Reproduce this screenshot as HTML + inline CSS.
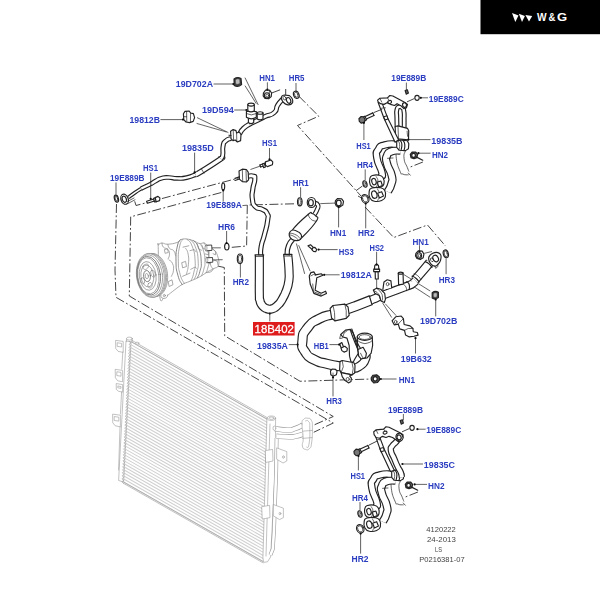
<!DOCTYPE html>
<html><head><meta charset="utf-8"><title>Diagram</title>
<style>
html,body{margin:0;padding:0;background:#fff;}
body{width:600px;height:600px;overflow:hidden;font-family:"Liberation Sans",sans-serif;}
svg{display:block}
.l{font-family:"Liberation Sans",sans-serif;font-weight:bold;font-size:8.3px;fill:#2a3cc0;}
.f{font-family:"Liberation Sans",sans-serif;font-size:6.6px;fill:#444;}
.k{fill:none;stroke:#222;stroke-width:1.15;stroke-linecap:round;stroke-linejoin:round}
.w{fill:#fff;stroke:#222;stroke-width:1.15;stroke-linecap:round;stroke-linejoin:round}
.t{fill:none;stroke:#222;stroke-width:0.7;stroke-linecap:round;stroke-linejoin:round}
.d{fill:none;stroke:#333;stroke-width:0.92;stroke-dasharray:9 2.4 1.8 2.4}
.g{fill:none;stroke:#999;stroke-width:0.6;stroke-linecap:round;stroke-linejoin:round}
.gw{fill:#fff;stroke:#999;stroke-width:0.6;stroke-linecap:round;stroke-linejoin:round}
.ld{fill:none;stroke:#222;stroke-width:0.7}
</style></head><body>
<svg width="600" height="600" viewBox="0 0 600 600">
<defs><filter id="sb" x="0" y="0" width="600" height="600" filterUnits="userSpaceOnUse"><feGaussianBlur stdDeviation="0.42"/></filter></defs>
<rect width="600" height="600" fill="#fff"/>
<g filter="url(#sb)">
<path class="gw" d="M131 341.6 L267.6 419.46 L263 561.46 L123.6 482 Z" style="stroke:none"/>
<path d="M131 341.6 L267.6 419.46 M130.84 344.59 L267.5 422.48 M130.69 347.57 L267.4 425.5 M130.53 350.56 L267.31 428.53 M130.37 353.55 L267.21 431.55 M130.21 356.54 L267.11 434.57 M130.06 359.52 L267.01 437.59 M129.9 362.51 L266.91 440.61 M129.74 365.5 L266.82 443.63 M129.58 368.49 L266.72 446.65 M129.43 371.47 L266.62 449.67 M129.27 374.46 L266.52 452.7 M129.11 377.45 L266.43 455.72 M128.95 380.43 L266.33 458.74 M128.8 383.42 L266.23 461.76 M128.64 386.41 L266.13 464.78 M128.48 389.4 L266.03 467.8 M128.32 392.38 L265.94 470.82 M128.17 395.37 L265.84 473.84 M128.01 398.36 L265.74 476.86 M127.85 401.34 L265.64 479.89 M127.69 404.33 L265.54 482.91 M127.54 407.32 L265.45 485.93 M127.38 410.31 L265.35 488.95 M127.22 413.29 L265.25 491.97 M127.06 416.28 L265.15 494.99 M126.91 419.27 L265.06 498.01 M126.75 422.26 L264.96 501.03 M126.59 425.24 L264.86 504.06 M126.43 428.23 L264.76 507.08 M126.28 431.22 L264.66 510.1 M126.12 434.2 L264.57 513.12 M125.96 437.19 L264.47 516.14 M125.8 440.18 L264.37 519.16 M125.65 443.17 L264.27 522.18 M125.49 446.15 L264.17 525.2 M125.33 449.14 L264.08 528.22 M125.17 452.13 L263.98 531.25 M125.02 455.11 L263.88 534.27 M124.86 458.1 L263.78 537.29 M124.7 461.09 L263.69 540.31 M124.54 464.08 L263.59 543.33 M124.39 467.06 L263.49 546.35 M124.23 470.05 L263.39 549.37 M124.07 473.04 L263.29 552.39 M123.91 476.03 L263.2 555.42 M123.76 479.01 L263.1 558.44 M123.6 482 L263 561.46" fill="none" stroke="#d0d0d0" stroke-width="1.05"/>
<path class="g" d="M131 341.6 L267.6 419.46"/>
<path class="g" d="M131.3 340 L267.6 417.86"/>
<path class="g" d="M123.6 482 L263 561.46"/>
<path class="g" d="M123.6 483.4 L263 562.86"/>
<path class="gw" d="M126.4 341 L131 341.8 L123.6 482 L119 480.6 Z"/>
<ellipse class="gw" cx="129.4" cy="338.6" rx="2.9" ry="1.5"/>
<path class="g" d="M126.5 338.8 L126.4 341.4"/>
<path class="g" d="M132.3 338.8 L132.2 342"/>
<ellipse class="gw" cx="137.2" cy="343.2" rx="1.8" ry="1"/>
<path class="g" d="M129.2 341.3 L130.9 343.1 L129.04 344.29 L130.74 346.09 L128.89 347.27 L130.59 349.07 L128.73 350.26 L130.43 352.06 L128.57 353.25 L130.27 355.05 L128.41 356.24 L130.11 358.04 L128.26 359.22 L129.96 361.02 L128.1 362.21 L129.8 364.01 L127.94 365.2 L129.64 367 L127.78 368.19 L129.48 369.99 L127.63 371.17 L129.33 372.97 L127.47 374.16 L129.17 375.96 L127.31 377.15 L129.01 378.95 L127.15 380.13 L128.85 381.93 L127 383.12 L128.7 384.92 L126.84 386.11 L128.54 387.91 L126.68 389.1 L128.38 390.9 L126.52 392.08 L128.22 393.88 L126.37 395.07 L128.07 396.87 L126.21 398.06 L127.91 399.86 L126.05 401.04 L127.75 402.84 L125.89 404.03 L127.59 405.83 L125.74 407.02 L127.44 408.82 L125.58 410.01 L127.28 411.81 L125.42 412.99 L127.12 414.79 L125.26 415.98 L126.96 417.78 L125.11 418.97 L126.81 420.77 L124.95 421.96 L126.65 423.76 L124.79 424.94 L126.49 426.74 L124.63 427.93 L126.33 429.73 L124.48 430.92 L126.18 432.72 L124.32 433.9 L126.02 435.7 L124.16 436.89 L125.86 438.69 L124 439.88 L125.7 441.68 L123.85 442.87 L125.55 444.67 L123.69 445.85 L125.39 447.65 L123.53 448.84 L125.23 450.64 L123.37 451.83 L125.07 453.63 L123.22 454.81 L124.92 456.61 L123.06 457.8 L124.76 459.6 L122.9 460.79 L124.6 462.59 L122.74 463.78 L124.44 465.58 L122.59 466.76 L124.29 468.56 L122.43 469.75 L124.13 471.55 L122.27 472.74 L123.97 474.54 L122.11 475.73 L123.81 477.53 L121.96 478.71 L123.66 480.51 L121.8 481.7 L123.5 483.5"/>
<path class="gw" d="M116 340.4 L123.2 341.4 L123.2 352.4 L118.16 351.4 L116 348.8 Z"/>
<path class="g" d="M117.6 342.8 L121.6 343.4 L121.6 347 L117.6 346.4 Z"/>
<path class="gw" d="M115.6 369.4 L122.6 370.4 L122.6 381.8 L117.7 380.8 L115.6 378.08 Z"/>
<path class="g" d="M117.2 371.8 L121 372.4 L121 376.22 L117.2 375.6 Z"/>
<path class="gw" d="M116.6 383.6 L122.6 384.6 L122.6 392.2 L118.4 391.2 L116.6 389.62 Z"/>
<path class="g" d="M118.2 386 L121 386.6 L121 388.33 L118.2 387.9 Z"/>
<path class="gw" d="M113 414.2 L120.4 415.2 L120.4 426.8 L115.22 425.8 L113 423.02 Z"/>
<path class="g" d="M114.6 416.6 L118.8 417.2 L118.8 421.13 L114.6 420.5 Z"/>
<path class="g" d="M122.8 352 L121.8 369"/>
<path class="g" d="M121.6 392 L120.4 414"/>
<path class="g" d="M120 427 L118.6 470"/>
<path class="gw" d="M267.3 418.4 L275.6 418.4 L275.2 470 L270.6 557 L267.5 561.8 L263.6 562.4 L263 558 Z"/>
<ellipse class="gw" cx="271.45" cy="418.2" rx="4.15" ry="2.2"/>
<ellipse class="g" cx="271.45" cy="418.2" rx="2.6" ry="1.2"/>
<path class="g" d="M270 424 L266 556"/>
<path d="M276.6 438 L276.2 470 L274 530 L272.8 549 L270.4 555" fill="none" stroke="#999" stroke-width="3.8" stroke-linecap="butt" stroke-linejoin="round"/>
<path d="M276.6 438 L276.2 470 L274 530 L272.8 549 L270.4 555" fill="none" stroke="#fff" stroke-width="2.6" stroke-linecap="butt" stroke-linejoin="round"/>
<path d="M274.6 428.6 C278.9 429.07 280.7 430 287.5 430 C294.3 430 290 430.2 295 428.6 C300 427 300 426.33 302.5 425.2" fill="none" stroke="#999" stroke-width="5.2" stroke-linecap="butt" stroke-linejoin="round"/>
<path d="M274.6 428.6 C278.9 429.07 280.7 430 287.5 430 C294.3 430 290 430.2 295 428.6 C300 427 300 426.33 302.5 425.2" fill="none" stroke="#fff" stroke-width="4" stroke-linecap="butt" stroke-linejoin="round"/>
<path d="M276.4 436.2 C280.6 436.43 282.47 436.9 289 436.9 C295.53 436.9 291.5 437.03 296 436.2 C300.5 435.37 300.33 435 302.5 434.4" fill="none" stroke="#999" stroke-width="5.2" stroke-linecap="butt" stroke-linejoin="round"/>
<path d="M276.4 436.2 C280.6 436.43 282.47 436.9 289 436.9 C295.53 436.9 291.5 437.03 296 436.2 C300.5 435.37 300.33 435 302.5 434.4" fill="none" stroke="#fff" stroke-width="4" stroke-linecap="butt" stroke-linejoin="round"/>
<ellipse class="gw" cx="274.4" cy="428.2" rx="1.4" ry="2.2"/>
<path class="gw" d="M302 424 C302.11 419.04 302.11 420.95 303.6 419.4 C305.09 417.85 305.52 417.93 307.6 418.2 C309.68 418.47 310.12 417.79 311.4 420.4 C312.68 423.01 312.35 421.97 312.4 428 C312.45 434.03 312.4 437.51 311.6 443 C310.8 448.49 311.05 446.89 309.4 448.6 C307.75 450.31 307.27 450.09 305.4 449.4 C303.53 448.71 302.99 449.04 302.4 446 C301.81 442.96 303.31 443.87 303.2 438 C303.09 432.13 301.89 428.96 302 424 Z"/>
<path class="g" d="M305.6 421 C306.6 421.2 307.2 419.27 308.6 421.6 C310 423.93 309.67 420.53 309.8 428 C309.93 435.47 310.07 437.67 309 444 C307.93 450.33 307.4 446 306.6 447"/>
<path class="g" d="M302.4 431.2 L312.2 430.4"/>
<path class="g" d="M302.6 438.4 L312 437.6"/>
<path class="gw" d="M277 448 L286.8 451.6 L286.8 461 L283 463 L277 459.4 Z"/>
<ellipse class="g" cx="283.4" cy="457" rx="0.9" ry="1.3"/>
<path class="gw" d="M273.6 504.6 L283.4 508.2 L283.4 517.6 L279.6 519.6 L273.6 516 Z"/>
<ellipse class="g" cx="280" cy="513.6" rx="0.9" ry="1.3"/>
<path class="gw" d="M265.6 450.6 L272.6 449.4 L273 461 L266 462.4 Z"/>
<path class="gw" d="M262 506.6 L269.6 505.4 L270 517.6 L262.6 519 Z"/>
<path class="d" d="M271.7 93 L282.3 89"/>
<path class="d" d="M285.7 89 L285.7 102"/>
<path class="d" d="M299 96.3 L318.75 116.2 L297.5 125.5 L361 196"/>
<path class="d" d="M365 207 L393.75 237.5 L427.5 225 L445.5 246"/>
<path class="d" d="M116.5 204 L115 270 L116 297.3 L333.25 423 L313.75 432.25"/>
<path class="d" d="M134.7 201.3 L136 205.5 L238.7 178"/>
<path class="d" d="M221.3 192.5 L130.7 216.8 L129.3 296 L333.25 416.5 L314.5 424.75"/>
<path class="d" d="M217.5 266 L224.3 267.5 L224.7 335.8 L300 381.25 L372 379"/>
<path class="d" d="M294 203.8 L247.3 205 L246.6 246 L230 247.5"/>
<path class="d" d="M356 190.7 L362.4 186"/>
<path class="d" d="M358 196 L362.6 198.6"/>
<path d="M128.3 197.6 C130.53 195.93 130.53 195.7 135 192.6 C139.47 189.5 139.47 189.73 141.7 188.3" fill="none" stroke="#222" stroke-width="3.75" stroke-linecap="butt" stroke-linejoin="round"/>
<path d="M128.3 197.6 C130.53 195.93 130.53 195.7 135 192.6 C139.47 189.5 139.47 189.73 141.7 188.3" fill="none" stroke="#fff" stroke-width="1.45" stroke-linecap="butt" stroke-linejoin="round"/>
<path d="M141.2 188.6 C142.8 187.8 142.5 187.9 146 186.2 C149.5 184.5 149.8 184.4 151.7 183.5" fill="none" stroke="#222" stroke-width="4.55" stroke-linecap="butt" stroke-linejoin="round"/>
<path d="M141.2 188.6 C142.8 187.8 142.5 187.9 146 186.2 C149.5 184.5 149.8 184.4 151.7 183.5" fill="none" stroke="#fff" stroke-width="2.25" stroke-linecap="butt" stroke-linejoin="round"/>
<path d="M151.2 183.8 C152.9 182.73 152.8 182.47 156.3 180.6 C159.8 178.73 157.47 179.23 161.7 178.2 C165.93 177.17 163.9 177.43 169 177.5 C174.1 177.57 171.1 178.37 177 178.4 C182.9 178.43 180.37 178.97 186.7 177.6 C193.03 176.23 192.9 175.4 196 174.3" fill="none" stroke="#222" stroke-width="4.75" stroke-linecap="butt" stroke-linejoin="round"/>
<path d="M151.2 183.8 C152.9 182.73 152.8 182.47 156.3 180.6 C159.8 178.73 157.47 179.23 161.7 178.2 C165.93 177.17 163.9 177.43 169 177.5 C174.1 177.57 171.1 178.37 177 178.4 C182.9 178.43 180.37 178.97 186.7 177.6 C193.03 176.23 192.9 175.4 196 174.3" fill="none" stroke="#fff" stroke-width="2.45" stroke-linecap="butt" stroke-linejoin="round"/>
<path d="M195.5 174.6 C197.43 173.57 193.37 176.4 201.3 171.5 C209.23 166.6 212.73 164.4 219.3 159.9 C225.87 155.4 220.43 158.63 221 158" fill="none" stroke="#222" stroke-width="5.75" stroke-linecap="butt" stroke-linejoin="round"/>
<path d="M195.5 174.6 C197.43 173.57 193.37 176.4 201.3 171.5 C209.23 166.6 212.73 164.4 219.3 159.9 C225.87 155.4 220.43 158.63 221 158" fill="none" stroke="#fff" stroke-width="3.45" stroke-linecap="butt" stroke-linejoin="round"/>
<path d="M220.6 158.6 C221.3 157.5 221.87 159.5 222.7 155.3 C223.53 151.1 222.1 150.77 223.1 146 C224.1 141.23 223.1 143.53 225.7 141 C228.3 138.47 229.17 139.27 230.9 138.4" fill="none" stroke="#222" stroke-width="4.95" stroke-linecap="butt" stroke-linejoin="round"/>
<path d="M220.6 158.6 C221.3 157.5 221.87 159.5 222.7 155.3 C223.53 151.1 222.1 150.77 223.1 146 C224.1 141.23 223.1 143.53 225.7 141 C228.3 138.47 229.17 139.27 230.9 138.4" fill="none" stroke="#fff" stroke-width="2.65" stroke-linecap="butt" stroke-linejoin="round"/>
<path d="M239.7 133.8 C241.03 131.93 240.1 131.6 243.7 128.2 C247.3 124.8 248.23 125.13 250.5 123.6" fill="none" stroke="#222" stroke-width="5.05" stroke-linecap="butt" stroke-linejoin="round"/>
<path d="M239.7 133.8 C241.03 131.93 240.1 131.6 243.7 128.2 C247.3 124.8 248.23 125.13 250.5 123.6" fill="none" stroke="#fff" stroke-width="2.75" stroke-linecap="butt" stroke-linejoin="round"/>
<path d="M249.5 124.2 C251.67 123.13 251.73 123.1 256 121 C260.27 118.9 259.07 119.5 262.3 117.9 C265.53 116.3 261.7 118 265.7 116.2 C269.7 114.4 270.3 116.17 274.3 112.5 C278.3 108.83 274.93 109.63 277.7 105.2 C280.47 100.77 280.97 101.2 282.6 99.2" fill="none" stroke="#222" stroke-width="5.05" stroke-linecap="butt" stroke-linejoin="round"/>
<path d="M249.5 124.2 C251.67 123.13 251.73 123.1 256 121 C260.27 118.9 259.07 119.5 262.3 117.9 C265.53 116.3 261.7 118 265.7 116.2 C269.7 114.4 270.3 116.17 274.3 112.5 C278.3 108.83 274.93 109.63 277.7 105.2 C280.47 100.77 280.97 101.2 282.6 99.2" fill="none" stroke="#fff" stroke-width="2.75" stroke-linecap="butt" stroke-linejoin="round"/>
<path class="t" d="M201.5 169 L204 173.2"/>
<ellipse class="w" cx="124.6" cy="199.2" rx="3.6" ry="5.2" transform="rotate(-20 124.6 199.2)"/>
<ellipse class="w" cx="124.3" cy="199.2" rx="2" ry="3.2" transform="rotate(-20 124.3 199.2)"/>
<path class="t" d="M127.5 201.5 L134 198"/>
<path class="t" d="M128 203.5 L135 199.8"/>
<ellipse class="k" cx="116.4" cy="198.6" rx="2" ry="3.6" transform="rotate(-15 116.4 198.6)"/>
<ellipse class="t" cx="116.4" cy="198.6" rx="1.1" ry="2.6" transform="rotate(-15 116.4 198.6)"/>
<path class="w" d="M146.6 201.2 L147.4 203.2 L154.5 201 L153.8 199 Z"/>
<path class="w" d="M153.6 198.4 L154.6 202 L156.4 201.6 L155.6 197.9 Z"/>
<path class="w" d="M155.2 197.6 L156.2 201.8 L159.6 200.6 L159.9 198 L158 196.4 Z"/>
<path class="w" d="M230.6 131.2 L233.2 129.6 L236 130.6 L236.6 133 L239.4 132 L241 134.6 L240.6 140.6 L237.4 142 L235.2 140 L233 140.6 L231 138.6 Z"/>
<path class="t" d="M233.2 129.8 L233.6 140.4"/>
<path class="t" d="M236.6 133 L236.8 141.6"/>
<path class="k" d="M229 135.2 L231 135.5"/>
<path class="w" d="M248.4 118 L248.4 122.5 Q251 124.6 253.7 122.5 L253.7 118 Z"/>
<path class="w" d="M246.4 111.5 L246.4 117.3 Q251.3 120.4 256.3 117.3 L256.3 111.5 Z"/>
<path class="t" d="M246.4 113.6 Q251.3 116.4 256.3 113.6"/>
<path class="w" d="M247.8 104.6 L247.8 110.8 Q251 113 254.3 110.8 L254.3 104.6 Z"/>
<ellipse class="w" cx="251.05" cy="104.6" rx="3.25" ry="1.5"/>
<path class="w" d="M257.2 113 L257.2 119 Q260 120.6 263 119 L263 113 Z"/>
<ellipse class="w" cx="260.1" cy="113" rx="2.9" ry="1.3"/>
<path class="w" d="M281.4 98.8 Q281 95.4 284.4 95 L289.4 95.6 Q293.6 98.6 292.6 102.6 Q290.6 105.6 287 104.6 Q283 103.6 281.4 98.8 Z"/>
<ellipse class="k" cx="288.6" cy="100.4" rx="2" ry="3" transform="rotate(-25 288.6 100.4)"/>
<ellipse class="t" cx="284.6" cy="98.2" rx="1.4" ry="2" transform="rotate(-25 284.6 98.2)"/>
<ellipse class="k" cx="296.3" cy="94.8" rx="2.7" ry="3.7" transform="rotate(-20 296.3 94.8)"/>
<ellipse class="t" cx="296.3" cy="94.8" rx="1.6" ry="2.6" transform="rotate(-20 296.3 94.8)"/>
<path class="w" d="M263.4 93.2 L265.6 90 L269.6 90.2 L271.6 93 L271.2 96.6 L268.6 98.8 L265 98.4 L263.2 96 Z"/>
<ellipse class="k" cx="267" cy="95.4" rx="2.6" ry="2.7"/>
<ellipse class="t" cx="267.2" cy="95.6" rx="1.4" ry="1.5"/>
<path class="t" d="M269.6 90.2 L269.2 93.2"/>
<path class="w" d="M234 79 Q237.4 76.6 241 78.4 L241.6 84.6 Q238 87.6 234.2 85.6 Z" style="fill:#444"/>
<path class="w" d="M235.5 79.4 Q237.6 78.2 239.8 79.2 L240 83.6 Q237.8 85 235.6 84 Z" style="fill:#bbb;stroke-width:.5"/>
<path class="w" d="M183.4 113.8 L185 111.4 L189.2 111 L190.6 113 L193.4 113.6 L194.6 117.6 L193.2 121.4 L189.6 122.6 L186 122 L183.8 119.6 Z"/>
<path class="t" d="M186.6 111.4 L186.8 121.8"/>
<path class="t" d="M190.6 113.2 L190.4 122.2"/>
<path class="t" d="M183.4 116.6 L186.6 116.8"/>
<path class="ld" d="M245 77.7 L258.3 105"/>
<path class="ld" d="M245 85.7 L256.3 103.7"/>
<path class="ld" d="M197 117.6 L228.4 132.6"/>
<path class="ld" d="M196.6 123.4 L226.6 132"/>
<path class="ld" d="M213.6 84 L233.4 84"/>
<circle cx="233.4" cy="84" r="1.1" fill="#111"/>
<path class="ld" d="M234.2 110 L246.4 110"/>
<circle cx="246.4" cy="110" r="1.1" fill="#111"/>
<path class="ld" d="M160.4 119.6 L183 119.6"/>
<circle cx="183" cy="119.6" r="1.1" fill="#111"/>
<path class="ld" d="M194.6 152.6 L194.6 172.4"/>
<circle cx="194.6" cy="172.4" r="1.1" fill="#111"/>
<path class="ld" d="M150.7 172.6 L150.7 198.8"/>
<circle cx="150.7" cy="198.8" r="1.1" fill="#111"/>
<path class="ld" d="M116 182.4 L116 194.6"/>
<path class="ld" d="M267.4 82.3 L267.4 89.7"/>
<circle cx="267.4" cy="89.7" r="1.1" fill="#111"/>
<path class="ld" d="M296 83 L296 91.7"/>
<ellipse class="k" cx="223.2" cy="186.4" rx="1.5" ry="3.4"/>
<path class="ld" d="M223.2 201.6 L223.2 190.4"/>
<circle cx="223.2" cy="190.4" r="1.1" fill="#111"/>
<path class="ld" d="M242.4 205.6 L247.2 205.2"/>
<style>.g2{fill:none;stroke:#858585;stroke-width:.7;stroke-linecap:round;stroke-linejoin:round}.g2w{fill:#fff;stroke:#858585;stroke-width:.7;stroke-linejoin:round}.g3{fill:none;stroke:#666;stroke-width:.8;stroke-linecap:round;stroke-linejoin:round}</style>
<path class="g2w" d="M158.27 249.5 C158 237.71 157.63 246.57 158.5 245.07 C159.37 243.57 159.82 243.27 162 243.08 C164.18 242.89 164.29 244.39 167.83 244.25 C171.37 244.11 174.17 243.56 177.17 242.5 C180.17 241.44 178.49 240.52 180.67 239.7 C182.85 238.88 183.51 238.75 186.5 239 C189.49 239.25 190.51 239.72 193.5 240.75 C196.49 241.78 196.88 242.91 199.33 243.43 C201.78 243.95 202.23 242.59 204 242.97 C205.77 243.35 204.74 243.55 206.92 245.07 C209.1 246.59 210.88 247.11 213.33 249.5 C215.78 251.89 216.19 251.66 217.42 255.33 C218.64 259 219.53 262.12 218.58 265.25 C217.63 268.38 215.92 267.2 213.33 268.75 C210.74 270.3 210.77 269.97 207.5 271.9 C204.23 273.83 203.41 274.85 199.33 277.03 C195.25 279.21 194.08 279.43 190 281.23 C185.92 283.03 185.91 282.33 181.83 284.73 C177.75 287.13 175.77 289.05 172.5 291.5 C169.23 293.95 169.74 293.87 167.83 295.23 C165.92 296.59 166.23 297.25 164.33 297.33 C162.43 297.41 161.08 306.74 159.67 295.58 C158.26 284.42 158.54 261.29 158.27 249.5 Z"/>
<path class="g3" d="M180.67 239.7 C179.69 241.59 178.8 239.56 177.4 246 C176 252.44 175.86 252.42 176 261.17 C176.14 269.92 176.05 268.17 177.87 275.17 C179.69 282.17 180.81 281.7 182.07 284.5"/>
<path class="g2" d="M183 239.23 C182.02 241.26 181.13 239.42 179.73 246 C178.33 252.58 178.19 252.6 178.33 261.17 C178.47 269.74 178.38 267.86 180.2 274.58 C182.02 281.3 183.14 280.87 184.4 283.57"/>
<path class="g3" d="M193.5 240.75 C194.97 242.68 196.09 241.04 198.4 247.17 C200.71 253.3 200.78 253.82 201.2 261.17 C201.62 268.52 200.99 266.7 199.8 271.67 C198.61 276.64 198 275.91 197.23 277.73"/>
<path class="g2" d="M190 239.7 C191.57 241.76 192.8 240.14 195.25 246.58 C197.7 253.02 197.71 253.47 198.17 261.17 C198.63 268.87 197.96 266.86 196.77 272.25 C195.58 277.64 194.97 277.07 194.2 279.13"/>
<path class="g2" d="M186.5 239 C188.18 241.1 189.51 239.35 192.1 246 C194.69 252.65 194.64 253.12 195.13 261.17 C195.62 269.22 194.92 267.02 193.73 272.83 C192.54 278.64 191.94 278.22 191.17 280.53"/>
<path class="g2" d="M199.33 243.43 C200.45 245.25 201.39 244.18 203.07 249.5 C204.75 254.82 204.72 255.22 204.93 261.17 C205.14 267.12 204.75 265.06 203.77 269.33 C202.79 273.6 202.3 273.58 201.67 275.4"/>
<path class="g2" d="M204 242.97 C204.98 244.93 205.8 244.39 207.27 249.5 C208.74 254.61 208.76 254.4 208.9 260 C209.04 265.6 208.64 264.32 207.73 268.17 C206.82 272.02 206.43 271.43 205.87 272.83"/>
<path class="g2" d="M162 243.08 C162.42 244.31 161.65 245.24 163.4 247.17 C165.15 249.1 166.01 247.4 167.83 249.5 C169.65 251.6 169.4 251.37 169.47 254.17 C169.54 256.97 168.49 257.43 168.07 258.83"/>
<path class="g2" d="M167.83 244.25 C168.32 245.47 167.72 246.4 169.47 248.33 C171.22 250.26 171.85 248.57 173.67 250.67 C175.49 252.77 174.97 253.93 175.53 255.33"/>
<path class="g2" d="M164.8 249.5 L167.6 248.8 L168.3 252.53 L165.5 253.23 Z"/>
<path class="g2" d="M169 260 C170.05 261.05 171.17 260.35 172.5 263.5 C173.83 266.65 173.78 266.65 173.43 270.5 C173.08 274.35 171.96 274.58 171.33 276.33"/>
<path class="g2" d="M182.07 262.57 L185.57 261.4 L186.5 266.53 L183 267.7 Z"/>
<path class="g2" d="M168.53 281.47 L172.03 279.83 L172.97 284.73 L169.47 286.37 Z"/>
<path class="g2" d="M183 247.17 L188.83 245.77"/>
<path class="g2" d="M182.53 276.33 L190 273.07"/>
<path class="g2" d="M185.57 248.33 C186.34 250.08 187.29 249.27 188.13 254.17 C188.97 259.07 188.86 258.72 188.37 264.67 C187.88 270.62 187.06 271.2 186.5 274"/>
<path class="g2" d="M190 250.67 L194.2 249.5 L196.07 251.83"/>
<path class="g2" d="M190.7 269.33 L195.13 267 L196.53 268.4"/>
<path class="g2" d="M205.17 247.17 L208.9 248.57 L208.67 254.87 L205.17 253.93"/>
<path class="g2" d="M205.87 256.97 L209.83 258.37 L210.53 263.73 L207.03 262.57"/>
<path class="g2" d="M213.33 249.5 L215.67 251.37 L215.43 254.87 L213.1 253.7"/>
<path class="g2" d="M213.92 260 L217.42 261.4 L218 265.25"/>
<path class="g2" d="M201.67 244.83 L203.53 249.03 L206.33 248.57"/>
<path class="g2" d="M197 243.67 L198.63 249.03 L201.43 250.2"/>
<path class="g2" d="M213.33 268.75 C212.63 269.63 212.89 270.51 211 271.67 C209.11 272.83 208.22 272.32 207.03 272.6"/>
<path class="g2" d="M209.83 246 C209.55 248.1 208.9 248.1 208.9 253 C208.9 257.9 208.71 257.57 209.83 262.33 C210.95 267.09 211.79 266.91 212.63 268.87"/>
<path class="g2w" d="M162.23 291.5 C161.81 292.55 160.76 293.04 160.83 295 C160.9 296.96 160.79 297.26 162.47 298.03 C164.15 298.8 164.89 298.62 166.43 297.57 C167.97 296.52 167.25 295.44 167.6 294.53"/>
<ellipse class="g2" cx="164.33" cy="295.58" rx="1" ry="1.2"/>
<ellipse class="g2w" cx="153.93" cy="274.9" rx="13.6" ry="21.6" transform="rotate(-7 153.93 274.9)"/>
<ellipse class="g2w" cx="152.73" cy="275.1" rx="13.7" ry="21.8" transform="rotate(-7 152.73 275.1)"/>
<ellipse class="g2w" cx="151.53" cy="275.3" rx="13.8" ry="22" transform="rotate(-7 151.53 275.3)"/>
<ellipse class="g2w" cx="150.33" cy="275.5" rx="13.8" ry="22" transform="rotate(-7 150.33 275.5)"/>
<ellipse class="g2" cx="149.63" cy="275.6" rx="12.8" ry="20.8" transform="rotate(-7 149.63 275.6)"/>
<ellipse class="g3" cx="148.83" cy="275.7" rx="11.6" ry="19.4" transform="rotate(-7 148.83 275.7)"/>
<ellipse class="g2" cx="148.33" cy="275.8" rx="10.6" ry="18.2" transform="rotate(-7 148.33 275.8)"/>
<ellipse class="g2" cx="147.73" cy="275.9" rx="8.4" ry="14.4" transform="rotate(-7 147.73 275.9)"/>
<ellipse class="g2" cx="147.33" cy="276" rx="6.4" ry="11" transform="rotate(-7 147.33 276)"/>
<ellipse class="g3" cx="147.03" cy="276.1" rx="3.4" ry="5.6" transform="rotate(-7 147.03 276.1)"/>
<ellipse class="g2" cx="146.83" cy="276.1" rx="1.6" ry="2.6" transform="rotate(-7 146.83 276.1)"/>
<path class="g2" d="M143 266.67 C143.3 265.17 143.73 264.83 145.33 264.33 C146.93 263.83 147.73 263.8 148.33 265 C148.93 266.2 148.53 267.03 147.33 268.33 C146.13 269.63 145.63 269.83 144.33 269.33 C143.03 268.83 142.7 268.17 143 266.67 Z"/>
<path class="g2" d="M151.33 270.67 C152.33 269.97 153.23 270.07 154.33 271.67 C155.43 273.27 155.5 274.5 155 276 C154.5 277.5 153.87 277.27 152.67 276.67 C151.47 276.07 151.4 275.8 151 274 C150.6 272.2 150.33 271.37 151.33 270.67 Z"/>
<path class="g2" d="M148.67 283.33 C149.67 282.23 150.87 282.13 151.67 283.33 C152.47 284.53 152.33 286.23 151.33 287.33 C150.33 288.43 149.13 288.2 148.33 287 C147.53 285.8 147.67 284.43 148.67 283.33 Z"/>
<path class="g2" d="M141 278.67 C141.6 277.37 142.67 277.37 143.67 278.67 C144.67 279.97 144.93 281.7 144.33 283 C143.73 284.3 142.67 284.3 141.67 283 C140.67 281.7 140.4 279.97 141 278.67 Z"/>
<path class="w" d="M205.83 245.33 L211.67 245 L212 250.33 L206.17 250.83 Z" style="stroke:#333;stroke-width:.9"/>
<path class="w" d="M206.67 257.83 L212.5 257.5 L212.83 262.17 L207 262.67 Z" style="stroke:#333;stroke-width:.9"/>
<ellipse class="g2w" cx="206" cy="248" rx="1" ry="2.7"/>
<ellipse class="g2w" cx="206.83" cy="260.17" rx="1" ry="2.4"/>
<path class="ld" d="M212 247.83 L220.83 247.83"/>
<path class="ld" d="M212.83 260 L222.67 259.67"/>
<ellipse class="k" cx="226.8" cy="246.6" rx="2.2" ry="3.4"/>
<ellipse class="k" cx="240" cy="258.8" rx="2.7" ry="4.8"/>
<ellipse class="t" cx="240" cy="258.8" rx="1.6" ry="3.7"/>
<path class="ld" d="M226.6 231 L226.6 243"/>
<circle cx="226.6" cy="243" r="1.1" fill="#111"/>
<path class="ld" d="M240.4 263.6 L240.4 277.5"/>
<path class="ld" d="M296.4 243.5 L304.7 273.9"/>
<path class="ld" d="M298.6 245.2 L310.2 271.2"/>
<path d="M259.35 254.9 C259.35 261.04 259.35 260.19 259.35 273.33 C259.35 286.47 259.16 285.38 259.35 294.33 C259.54 303.28 259.19 296.75 259.93 300.17 C260.67 303.59 260.13 302.19 261.57 304.6 C263.01 307.01 262.58 306.08 264.25 307.4 C265.92 308.72 264.83 307.95 266.58 308.57 C268.33 309.19 267.55 309.23 269.5 309.27 C271.45 309.31 270.55 309.3 272.42 308.68 C274.29 308.06 273.23 308.68 275.1 307.4 C276.97 306.12 276.19 306.66 278.02 304.83 C279.85 303 278.83 304.45 280.58 301.92 C282.33 299.39 281.71 300.17 283.27 297.25 C284.83 294.33 283.93 296.28 285.25 293.17 C286.57 290.06 286.18 291.23 287.23 287.92 C288.28 284.61 287.78 286.56 288.4 283.25 C289.02 279.94 288.87 281.31 289.1 278 C289.33 274.69 289.26 278 289.1 273.33 C288.94 268.66 289.1 270.3 288.63 264 C288.16 257.7 288.01 257.62 287.7 254.43" fill="none" stroke="#222" stroke-width="9.15" stroke-linecap="butt" stroke-linejoin="round"/>
<path d="M259.35 254.9 C259.35 261.04 259.35 260.19 259.35 273.33 C259.35 286.47 259.16 285.38 259.35 294.33 C259.54 303.28 259.19 296.75 259.93 300.17 C260.67 303.59 260.13 302.19 261.57 304.6 C263.01 307.01 262.58 306.08 264.25 307.4 C265.92 308.72 264.83 307.95 266.58 308.57 C268.33 309.19 267.55 309.23 269.5 309.27 C271.45 309.31 270.55 309.3 272.42 308.68 C274.29 308.06 273.23 308.68 275.1 307.4 C276.97 306.12 276.19 306.66 278.02 304.83 C279.85 303 278.83 304.45 280.58 301.92 C282.33 299.39 281.71 300.17 283.27 297.25 C284.83 294.33 283.93 296.28 285.25 293.17 C286.57 290.06 286.18 291.23 287.23 287.92 C288.28 284.61 287.78 286.56 288.4 283.25 C289.02 279.94 288.87 281.31 289.1 278 C289.33 274.69 289.26 278 289.1 273.33 C288.94 268.66 289.1 270.3 288.63 264 C288.16 257.7 288.01 257.62 287.7 254.43" fill="none" stroke="#fff" stroke-width="6.85" stroke-linecap="butt" stroke-linejoin="round"/>
<path d="M248.75 176.13 C250.16 176.13 250.95 175.09 252.97 176.13 C254.99 177.17 254.86 174.85 254.8 179.25 C254.74 183.65 253.57 182.61 252.78 189.33 C251.99 196.05 251.5 193.61 252.42 199.42 C253.34 205.23 252.17 203.39 255.53 206.75 C258.89 210.11 258.65 207.24 262.5 209.5 C266.35 211.76 265.37 209.86 267.08 213.53 C268.79 217.2 268.55 213.29 267.63 220.5 C266.71 227.71 266.47 226.61 264.33 235.17 C262.19 243.73 262.44 239.45 261.22 246.17 C260 252.89 260.85 252.28 260.67 255.33" fill="none" stroke="#222" stroke-width="5.15" stroke-linecap="butt" stroke-linejoin="round"/>
<path d="M248.75 176.13 C250.16 176.13 250.95 175.09 252.97 176.13 C254.99 177.17 254.86 174.85 254.8 179.25 C254.74 183.65 253.57 182.61 252.78 189.33 C251.99 196.05 251.5 193.61 252.42 199.42 C253.34 205.23 252.17 203.39 255.53 206.75 C258.89 210.11 258.65 207.24 262.5 209.5 C266.35 211.76 265.37 209.86 267.08 213.53 C268.79 217.2 268.55 213.29 267.63 220.5 C266.71 227.71 266.47 226.61 264.33 235.17 C262.19 243.73 262.44 239.45 261.22 246.17 C260 252.89 260.85 252.28 260.67 255.33" fill="none" stroke="#fff" stroke-width="2.85" stroke-linecap="butt" stroke-linejoin="round"/>
<path class="k" d="M255.03 254.9 L263.67 254.9"/>
<path class="t" d="M255.27 256.53 L263.43 256.53"/>
<path d="M293.3 238.83 C291.71 241.15 290.61 240.3 288.53 245.8 C286.45 251.3 287.56 252.15 287.07 255.33" fill="none" stroke="#222" stroke-width="5.35" stroke-linecap="butt" stroke-linejoin="round"/>
<path d="M293.3 238.83 C291.71 241.15 290.61 240.3 288.53 245.8 C286.45 251.3 287.56 252.15 287.07 255.33" fill="none" stroke="#fff" stroke-width="3.05" stroke-linecap="butt" stroke-linejoin="round"/>
<path class="k" d="M283.62 254.43 L291.78 254.43"/>
<path class="t" d="M283.85 256.07 L291.55 256.07"/>
<path d="M313.83 202.53 C315.18 203.33 316.77 202.6 317.87 204.92 C318.97 207.24 318.35 206.14 317.13 209.5 C315.91 212.86 315.18 213.17 314.2 215" fill="none" stroke="#222" stroke-width="4.75" stroke-linecap="butt" stroke-linejoin="round"/>
<path d="M313.83 202.53 C315.18 203.33 316.77 202.6 317.87 204.92 C318.97 207.24 318.35 206.14 317.13 209.5 C315.91 212.86 315.18 213.17 314.2 215" fill="none" stroke="#fff" stroke-width="2.45" stroke-linecap="butt" stroke-linejoin="round"/>
<path class="w" d="M308.33 214.27 C312.36 210.82 310.53 213.2 312 213.53 C313.47 213.86 314.72 214.53 315.67 215.92 C316.62 217.31 319.41 216.28 316.77 220.5 C314.13 224.72 306.17 233.41 302.47 237 C298.77 240.59 300.08 238.76 298.25 238.47 C296.42 238.18 294.58 237.07 293.3 235.53 C292.02 233.99 288.82 235.02 291.83 230.77 C294.84 226.52 304.3 217.72 308.33 214.27 Z"/>
<path class="t" d="M308.33 214.27 C308.94 215.61 308.21 216.1 310.17 218.3 C312.13 220.5 312 220.14 314.2 220.87 C316.4 221.6 315.91 220.62 316.77 220.5"/>
<path class="w" d="M290 231.87 C291.07 230.4 291.1 230.03 293.3 230.03 C295.5 230.03 296.1 230.5 298.25 231.87 C300.4 233.24 300.74 233.22 301.37 235.17 C302 237.12 301.8 237.73 300.63 239.2 C299.46 240.67 299.32 240.67 296.97 240.67 C294.62 240.67 293.88 240.57 291.83 239.2 C289.78 237.83 289.76 237.48 289.27 235.53 C288.78 233.58 288.93 233.34 290 231.87 Z"/>
<path class="t" d="M290 233.33 C291.53 233.64 291.52 232.9 294.58 234.25 C297.64 235.6 297.27 235.6 299.17 237.37 C301.07 239.14 299.9 238.84 300.27 239.57"/>
<path class="t" d="M289.63 234.8 C290.98 235.29 290.98 234.8 293.67 236.27 C296.36 237.74 296.17 237.73 297.7 239.2 C299.23 240.67 298.07 240.18 298.25 240.67"/>
<ellipse class="w" cx="311.45" cy="202.53" rx="4.2" ry="5"/>
<ellipse class="w" cx="310.9" cy="202.72" rx="2.4" ry="3.2"/>
<path class="w" d="M239.03 171 L242.33 169.17 L246.37 169.53 L248.2 172.1 L248.57 179.8 L246.37 182 L242.33 181.63 L239.4 179.07 Z"/>
<path class="t" d="M242.33 169.53 L242.7 181.27"/>
<path class="t" d="M246 169.9 L246.37 181.63"/>
<path class="k" d="M235 178.33 L239.4 176.87"/>
<path class="k" d="M235 180.53 L239.4 179.07"/>
<path class="k" d="M259.93 164.95 L266.35 162.57"/>
<path class="k" d="M260.67 166.97 L266.9 164.77"/>
<path class="k" d="M259.93 164.95 L260.67 166.97"/>
<path class="ld" d="M250.4 169.53 L260.3 166.05"/>
<path class="w" d="M262.5 164.03 L264.33 163.3 L265.43 166.97 L263.6 167.7 Z"/>
<path class="w" d="M265.43 161.83 L270.93 160 L272.77 161.83 L272.4 164.77 L267.27 166.6 L265.43 165.13 Z"/>
<ellipse class="k" cx="299.8" cy="201.8" rx="2.3" ry="4.1"/>
<ellipse class="t" cx="299.8" cy="201.8" rx="1.3" ry="3"/>
<path class="w" d="M335.47 200.7 L337.67 198.5 L341.7 198.87 L343.53 201.43 L342.8 205.1 L339.87 206.93 L336.2 205.83 L335.1 203.27 Z"/>
<ellipse class="k" cx="338.77" cy="202.9" rx="2.4" ry="2.8"/>
<path class="ld" d="M320.25 203.63 L334.92 203.08"/>
<path class="w" d="M307.97 245.87 L310.53 244.77 L314.2 248.07 L313.1 250.27 Z"/>
<path class="w" d="M312.73 247.7 L314.93 247.33 L316.77 249.53 L315.67 251.73 L313.47 251.37 L312 249.9 Z"/>
<path class="w" d="M309.25 275.93 L310.9 272.63 L313.83 271.9 L315.67 274.83 L321.17 273.73 L323 275.2 L316.77 277.77 L316.03 284 L315.12 290.23 L321.17 293.17 L325.57 291.15 L326.48 293.53 L321.17 296.1 L313.83 293.35 L310.17 284 Z"/>
<path class="t" d="M310.9 275.93 L313.47 274.47 L315.67 275.2"/>
<path class="t" d="M312.73 284 L313.47 291.7 L321.17 294.63"/>
<path class="ld" d="M300.6 187.2 L300.6 197.4"/>
<path class="ld" d="M269.5 148 L269.5 159.4"/>
<circle cx="269.5" cy="159.4" r="1.1" fill="#111"/>
<path class="ld" d="M338.6 227.4 L338.6 207.2"/>
<circle cx="338.6" cy="207.2" r="1.1" fill="#111"/>
<path class="ld" d="M337.7 249.6 L318.6 249.6"/>
<circle cx="318.6" cy="249.6" r="1.1" fill="#111"/>
<path class="ld" d="M339.6 274.8 L324.2 274.8"/>
<circle cx="324.2" cy="274.8" r="1.1" fill="#111"/>
<path class="ld" d="M269.8 321.4 L269.8 313.6"/>
<circle cx="269.8" cy="313.6" r="1.1" fill="#111"/>
<path class="ld" d="M403.6 274.4 L430.2 291"/>
<path class="ld" d="M406.3 281.75 L430.2 297.3"/>
<path class="ld" d="M382.5 302.8 L391.7 317.5"/>
<path class="ld" d="M385.25 303.75 L396.25 315.7"/>
<path d="M414.77 280.1 C417.34 277.17 417.46 277.17 422.47 271.3 C427.48 265.43 427.36 265.43 429.8 262.5" fill="none" stroke="#222" stroke-width="9.35" stroke-linecap="butt" stroke-linejoin="round"/>
<path d="M414.77 280.1 C417.34 277.17 417.46 277.17 422.47 271.3 C427.48 265.43 427.36 265.43 429.8 262.5" fill="none" stroke="#fff" stroke-width="7.05" stroke-linecap="butt" stroke-linejoin="round"/>
<path d="M366 302.1 C368.44 301.12 367.22 301.68 373.33 299.17 C379.44 296.66 373.33 298.86 384.33 294.58 C395.33 290.3 397.04 289.93 406.33 286.33 C415.62 282.73 409.14 285.6 412.2 283.77 C415.26 281.94 414.4 281.81 415.5 280.83" fill="none" stroke="#222" stroke-width="8.95" stroke-linecap="butt" stroke-linejoin="round"/>
<path d="M366 302.1 C368.44 301.12 367.22 301.68 373.33 299.17 C379.44 296.66 373.33 298.86 384.33 294.58 C395.33 290.3 397.04 289.93 406.33 286.33 C415.62 282.73 409.14 285.6 412.2 283.77 C415.26 281.94 414.4 281.81 415.5 280.83" fill="none" stroke="#fff" stroke-width="6.65" stroke-linecap="butt" stroke-linejoin="round"/>
<path d="M346 309.6 L355 306.4 L371 300.2" fill="none" stroke="#222" stroke-width="10.35" stroke-linecap="butt" stroke-linejoin="round"/>
<path d="M346 309.6 L355 306.4 L371 300.2" fill="none" stroke="#fff" stroke-width="8.05" stroke-linecap="butt" stroke-linejoin="round"/>
<path class="k" d="M369.3 295.87 L371.87 304.3"/>
<path d="M340 312.13 C337.56 312.86 339.7 312.07 332.67 314.33 C325.64 316.59 327.35 314.34 318.92 318.92 C310.49 323.5 312.87 320.75 307.37 328.08 C301.87 335.41 303.15 332.97 302.42 340.92 C301.69 348.87 301.2 345.63 305.17 351.92 C309.14 358.21 307 355.83 314.33 359.8 C321.66 363.77 317.88 361.51 327.17 363.83 C336.46 366.15 337.19 365.79 342.2 366.77" fill="none" stroke="#222" stroke-width="10.15" stroke-linecap="butt" stroke-linejoin="round"/>
<path d="M340 312.13 C337.56 312.86 339.7 312.07 332.67 314.33 C325.64 316.59 327.35 314.34 318.92 318.92 C310.49 323.5 312.87 320.75 307.37 328.08 C301.87 335.41 303.15 332.97 302.42 340.92 C301.69 348.87 301.2 345.63 305.17 351.92 C309.14 358.21 307 355.83 314.33 359.8 C321.66 363.77 317.88 361.51 327.17 363.83 C336.46 366.15 337.19 365.79 342.2 366.77" fill="none" stroke="#fff" stroke-width="7.85" stroke-linecap="butt" stroke-linejoin="round"/>
<path class="w" d="M330.1 308.47 L333.03 305.53 L344.77 304.07 L348.07 307 L349.17 315.25 L346.23 318.37 L334.87 320.93 L331.57 318 Z"/>
<path class="t" d="M333.03 305.53 L334.5 312.5 L334.87 320.93"/>
<path class="t" d="M344.77 304.07 L346.23 310.67 L346.23 318.37"/>
<path class="k" d="M412.2 276.07 C413.42 276.8 413.55 276.32 415.87 278.27 C418.19 280.22 418.07 280.71 419.17 281.93"/>
<path class="t" d="M414.03 273.87 C415.25 274.48 415.38 273.75 417.7 275.7 C420.02 277.65 419.9 278.39 421 279.73"/>
<path class="k" d="M425.4 261.77 C426.5 262.38 426.5 261.77 428.7 263.6 C430.9 265.43 430.9 266.05 432 267.27"/>
<path class="w" d="M429.07 256.63 C429.92 254.92 430.68 254.27 432.73 253.33 C434.78 252.39 435.99 252.17 437.87 252.6 C439.75 253.03 440.2 253.29 440.8 255.17 C441.4 257.05 441.11 258.53 440.43 260.67 C439.75 262.81 439.15 263.05 437.87 264.33 C436.59 265.61 436.47 266.17 434.93 266.17 C433.39 266.17 432.64 265.61 431.27 264.33 C429.9 263.05 429.58 262.47 429.07 260.67 C428.56 258.87 428.22 258.34 429.07 256.63 Z"/>
<ellipse class="k" cx="435.67" cy="258.47" rx="2.6" ry="3.4" transform="rotate(-30 435.67 258.47)"/>
<ellipse class="t" cx="432" cy="259.75" rx="1.4" ry="2" transform="rotate(-30 432 259.75)"/>
<path class="t" d="M434.93 266.17 L435.67 268.37 L437.87 266.53 L437.87 264.33"/>
<path class="w" d="M398.27 273.5 L403.03 272.77 L403.4 284.13 L398.63 284.87 Z"/>
<ellipse class="w" cx="400.65" cy="273.13" rx="2.4" ry="1"/>
<path class="k" d="M404.87 283.03 C405.72 282.79 405.96 281.69 407.43 282.3 C408.9 282.91 408.66 282.55 409.27 284.87 C409.88 287.19 409.27 287.8 409.27 289.27"/>
<path class="t" d="M404.13 284.87 C404.74 285.6 405.11 285.12 405.97 287.07 C406.83 289.02 406.46 289.51 406.7 290.73"/>
<path class="w" d="M382.87 289.63 L383.97 281.93 L387.27 279.73 L390.93 280.83 L391.67 287.8"/>
<ellipse class="t" cx="387.63" cy="284.13" rx="1.4" ry="1.6"/>
<path class="w" d="M373.33 290 L376.63 288.17 L380.67 289.27 L384.7 293.3 L385.43 299.17 L384.33 302.47 L381.03 301 L379.2 295.5 L374.8 293.3 Z"/>
<path class="t" d="M376.63 288.53 C377.98 289.75 378.71 289.27 380.67 292.2 C382.63 295.13 382.13 294.4 382.5 297.33 C382.87 300.26 382.01 299.78 381.77 301"/>
<path class="t" d="M374.07 290.73 C375.54 291.83 376.39 291.22 378.47 294.03 C380.55 296.84 379.69 297.46 380.3 299.17"/>
<path class="w" d="M375.17 271.67 L378.1 271.67 L378.28 279 L375.35 279 Z"/>
<path class="w" d="M373.7 269.1 L379.57 269.1 L379.57 271.67 L373.7 271.67 Z"/>
<path class="w" d="M374.8 265.43 L376.63 263.97 L378.47 265.43 L378.83 269.1 L374.43 269.1 Z"/>
<path class="ld" d="M376.63 279 L376.63 288.17"/>
<path class="w" d="M415.87 253.33 L418.43 250.77 L422.1 251.13 L423.93 254.07 L423.2 257.73 L420.27 259.57 L416.97 258.47 L415.5 255.9 Z"/>
<ellipse class="k" cx="419.17" cy="255.53" rx="2.4" ry="2.8"/>
<ellipse class="t" cx="419.53" cy="255.72" rx="1.2" ry="1.5"/>
<path class="ld" d="M424.3 253.33 L432 251.5"/>
<ellipse class="k" cx="445.8" cy="253.8" rx="2.5" ry="4" transform="rotate(-15 445.8 253.8)"/>
<ellipse class="t" cx="445.8" cy="253.8" rx="1.5" ry="3" transform="rotate(-15 445.8 253.8)"/>
<path class="w" d="M432.2 292.6 Q435.2 290.4 438.4 292.2 L438.4 297.6 Q435.2 300 432.2 298 Z" style="fill:#444"/>
<path class="w" d="M433.4 293.2 Q435.2 292.2 437.2 293 L437.2 296.8 Q435.2 298 433.4 297 Z" style="fill:#bbb;stroke-width:.5"/>
<path class="w" d="M392.03 320.8 L395.7 316.77 L401.2 316.03 L403.4 318.6 L404.13 324.47 L410 325.93 L412.93 328.5 L413.3 331.8 L417.33 332.53 L418.07 335.1 L414.03 336.2 L409.27 336.93 L405.6 335.1 L404.5 330.33 L399.73 328.87 L398.27 324.1 L394.23 324.83 Z"/>
<ellipse class="t" cx="395.7" cy="321.9" rx="1.3" ry="1.6"/>
<path class="t" d="M398.27 324.1 L400.83 321.17 L403.4 318.6"/>
<path class="t" d="M404.5 330.33 L408.17 328.5 L412.93 328.5"/>
<path d="M340.92 366.77 C344.28 367.32 344.58 368.79 351 368.42 C357.42 368.05 355.4 368.73 360.17 365.67 C364.94 362.61 363.47 362.92 365.3 359.25 C367.13 355.58 365.55 356.2 365.67 354.67" fill="none" stroke="#222" stroke-width="9.35" stroke-linecap="butt" stroke-linejoin="round"/>
<path d="M340.92 366.77 C344.28 367.32 344.58 368.79 351 368.42 C357.42 368.05 355.4 368.73 360.17 365.67 C364.94 362.61 363.47 362.92 365.3 359.25 C367.13 355.58 365.55 356.2 365.67 354.67" fill="none" stroke="#fff" stroke-width="7.05" stroke-linecap="butt" stroke-linejoin="round"/>
<path class="w" d="M357.23 336.7 L372.27 336.7 L372.63 345.5 L371.17 353.2 L367.13 357.97 L362 358.33 L357.97 354.67 Z"/>
<ellipse class="w" cx="364.75" cy="336.7" rx="7.5" ry="3.6"/>
<ellipse class="t" cx="364.75" cy="337.07" rx="5.6" ry="2.4"/>
<path class="t" d="M357.23 340 C358.82 340.98 358.45 341.95 362 342.93 C365.55 343.91 364.39 343.78 367.87 342.93 C371.35 342.08 370.92 341.22 372.45 340.37"/>
<path class="w" d="M340.73 334.5 L345.5 330.1 L350.27 329.37 L353.2 333.03 L356.87 345.5 L358.33 353.2 L355.4 357.97 L353.2 362 L351 362 L349.53 356.13 L349.17 345.5 L346.97 338.17 L342.93 337.07 Z"/>
<path class="k" d="M350.27 329.73 C351.49 333.15 351.36 333.52 353.93 340 C356.5 346.48 355.77 344.77 357.97 349.17 C360.17 353.57 359.68 351.86 360.53 353.2"/>
<path class="k" d="M351.73 329 C353.08 332.42 353.08 333.16 355.77 339.27 C358.46 345.38 357.48 343.42 359.8 347.33 C362.12 351.24 361.75 349.78 362.73 351"/>
<path class="w" d="M357.97 349.53 L363.1 347.33 L366.4 353.2 L365.67 357.6 L361.27 359.07 L358.7 356.13 Z"/>
<path class="t" d="M360.53 353.2 L362.73 357.6"/>
<path class="t" d="M340.73 334.5 L339.63 338.53 L342.2 338.17"/>
<path class="t" d="M342.93 337.07 L344.03 333.03 L346.97 330.83"/>
<path class="w" d="M340 361.63 L342.2 360.53 L353.93 362.73 L355.03 365.67 L354.67 373 L352.1 374.83 L341.1 372.63 L339.63 369.7 Z"/>
<path class="t" d="M342.2 360.53 L343.3 366.77 L341.1 372.63"/>
<path class="t" d="M352.1 363.1 L353.2 368.6 L352.1 374.83"/>
<path class="w" d="M341.1 372.63 L342.2 376.67 L344.77 380.33 L348.43 382.9 L351 381.43 L351.37 378.13 L349.53 375.93 L352.1 374.83 Z"/>
<ellipse class="t" cx="347.7" cy="379.23" rx="1.6" ry="1.8"/>
<path class="w" d="M330.47 370.8 L332.3 368.97 L335.6 369.33 L337.07 371.53 L336.33 374.83 L333.03 376.3 L330.83 374.83 Z"/>
<path class="t" d="M333.03 373 L333.03 376.3"/>
<path class="w" d="M339.63 344.03 L341.83 342.57 L343.67 347.33 L341.47 348.43 Z"/>
<path class="w" d="M341.1 348.07 L344.77 346.23 L347.33 348.43 L346.97 351 L344.03 352.1 L341.83 350.63 Z"/>
<path class="w" d="M371.17 377.77 L373 375.2 L376.67 374.83 L379.23 376.67 L379.6 379.97 L377.4 382.53 L373.73 382.9 L371.53 380.7 Z" style="fill:#555"/>
<ellipse class="w" cx="375.2" cy="378.87" rx="2" ry="2.2"/>
<path class="ld" d="M376.6 251.8 L376.6 264.6"/>
<circle cx="376.6" cy="264.6" r="1.1" fill="#111"/>
<path class="ld" d="M419.5 245.2 L419.5 251.6"/>
<circle cx="419.5" cy="251.6" r="1.1" fill="#111"/>
<path class="ld" d="M446.1 274.2 L446.1 258.4"/>
<path class="ld" d="M435.7 316.4 L435.7 299.6"/>
<circle cx="435.7" cy="299.6" r="1.1" fill="#111"/>
<path class="ld" d="M415.5 353.6 L415.5 338.2"/>
<circle cx="415.5" cy="338.2" r="1.1" fill="#111"/>
<path class="ld" d="M329.4 344.6 L339.2 344.6"/>
<circle cx="339.2" cy="344.6" r="1.1" fill="#111"/>
<path class="ld" d="M288.7 344.6 L297.6 344.6"/>
<circle cx="297.6" cy="344.6" r="1.1" fill="#111"/>
<path class="ld" d="M333 396.4 L333 377.4"/>
<circle cx="333" cy="377.4" r="1.1" fill="#111"/>
<path class="ld" d="M396.6 379 L380.8 379"/>
<circle cx="380.8" cy="379" r="1.1" fill="#111"/>
<path class="t" d="M397.43 150.63 C397.06 153.2 395.47 151.48 396.33 158.33 C397.19 165.18 397.8 165.91 400 171.17 C402.2 176.43 400.18 172.88 402.93 174.1 C405.68 175.32 406.48 174.59 408.25 174.83"/>
<path class="t" d="M405.5 150.63 C405.01 153.2 403.42 152.71 404.03 158.33 C404.64 163.95 405.74 163.22 407.33 167.5 C408.92 171.78 408.31 169.95 408.8 171.17"/>
<path class="t" d="M408.25 173 L410.27 175.2"/>
<path d="M400 150.45 C397.19 150.76 395.91 149.6 391.57 151.37 C387.23 153.14 388.51 151.74 386.98 155.77 C385.45 159.8 385.39 156.87 386.98 163.47 C388.57 170.07 390.28 168.73 391.75 175.57 C393.22 182.41 392.72 178.62 391.38 184 C390.04 189.38 388.94 189.13 387.72 191.7" fill="none" stroke="#222" stroke-width="8.35" stroke-linecap="butt" stroke-linejoin="round"/>
<path d="M400 150.45 C397.19 150.76 395.91 149.6 391.57 151.37 C387.23 153.14 388.51 151.74 386.98 155.77 C385.45 159.8 385.39 156.87 386.98 163.47 C388.57 170.07 390.28 168.73 391.75 175.57 C393.22 182.41 392.72 178.62 391.38 184 C390.04 189.38 388.94 189.13 387.72 191.7" fill="none" stroke="#fff" stroke-width="6.05" stroke-linecap="butt" stroke-linejoin="round"/>
<path d="M397.07 144.03 C392.97 144.34 390.95 143.24 384.78 144.95 C378.61 146.66 381.18 144.83 378.55 149.17 C375.92 153.51 375.8 150.27 376.9 157.97 C378 165.67 380.57 166.04 381.85 172.27 C383.13 178.5 382.03 174.29 380.75 176.67 C379.47 179.05 378.92 178.5 378 179.42" fill="none" stroke="#222" stroke-width="7.55" stroke-linecap="butt" stroke-linejoin="round"/>
<path d="M397.07 144.03 C392.97 144.34 390.95 143.24 384.78 144.95 C378.61 146.66 381.18 144.83 378.55 149.17 C375.92 153.51 375.8 150.27 376.9 157.97 C378 165.67 380.57 166.04 381.85 172.27 C383.13 178.5 382.03 174.29 380.75 176.67 C379.47 179.05 378.92 178.5 378 179.42" fill="none" stroke="#fff" stroke-width="5.25" stroke-linecap="butt" stroke-linejoin="round"/>
<path class="t" d="M387.53 158.33 L393.03 157.97"/>
<path class="w" d="M396.7 141.1 L400 140 L407.33 140.73 L408.8 143.67 L408.43 148.8 L405.5 150.63 L399.27 150.27 L396.7 147.33 Z"/>
<path class="k" d="M400 140.37 C400.61 141.59 401.46 140.73 401.83 144.03 C402.2 147.33 401.34 148.19 401.1 150.27"/>
<path class="k" d="M402.93 140.37 C403.54 141.71 404.4 140.98 404.77 144.4 C405.14 147.82 404.28 148.55 404.03 150.63"/>
<path class="t" d="M398.17 140.73 C398.66 142.08 399.39 141.71 399.63 144.77 C399.87 147.83 399.14 148.19 398.9 149.9"/>
<path class="w" d="M369.93 178.13 C370.44 175.95 370.4 176.25 372.5 175.57 C374.6 174.89 376.44 174.69 378.92 175.2 C381.4 175.71 381.98 175.72 383.13 177.77 C384.28 179.82 384.38 181.86 383.87 184 C383.36 186.14 383.16 186.07 380.93 186.93 C378.7 187.79 376.81 188.14 374.33 187.67 C371.85 187.2 371.33 187.15 370.3 184.92 C369.27 182.69 369.42 180.31 369.93 178.13 Z"/>
<path class="w" d="M369.2 191.33 C369.71 189.02 369.65 188.88 372.13 188.03 C374.61 187.18 376.92 187.16 379.83 187.67 C382.74 188.18 383.32 188.09 384.6 190.23 C385.88 192.37 386.01 194.43 385.33 196.83 C384.65 199.23 384.24 199.47 381.67 200.5 C379.1 201.53 377.07 201.83 374.33 201.23 C371.59 200.63 371.13 200.24 369.93 197.93 C368.73 195.62 368.69 193.64 369.2 191.33 Z"/>
<ellipse class="k" cx="373.97" cy="181.62" rx="2.2" ry="3.2" transform="rotate(-15 373.97 181.62)"/>
<ellipse class="k" cx="374.33" cy="194.63" rx="2.6" ry="3.8" transform="rotate(-15 374.33 194.63)"/>
<path class="t" d="M376.17 176.67 C376.78 178.26 377.88 178.01 378 181.43 C378.12 184.85 377.02 185.1 376.53 186.93"/>
<path class="t" d="M377.27 188.77 C378 190.72 379.35 190.72 379.47 194.63 C379.59 198.54 378.24 198.54 377.63 200.5"/>
<path class="w" d="M377.27 182.17 L380.93 181.07 L382.4 185.47 L378.73 186.93 Z"/>
<path class="w" d="M377.63 193.17 L381.67 191.7 L383.5 196.1 L379.47 197.93 Z"/>
<ellipse class="k" cx="364.98" cy="184" rx="2" ry="3.3" transform="rotate(-15 364.98 184)"/>
<ellipse class="t" cx="364.98" cy="184" rx="1" ry="2.2" transform="rotate(-15 364.98 184)"/>
<ellipse class="k" cx="365.26" cy="198.85" rx="3.6" ry="4.4" transform="rotate(-25 365.26 198.85)"/>
<ellipse class="t" cx="365.26" cy="198.85" rx="2.5" ry="3.3" transform="rotate(-25 365.26 198.85)"/>
<path class="w" d="M410.27 154.3 L412.1 152.1 L415.77 152.1 L417.6 154.3 L416.87 157.6 L413.93 158.7 L411 157.6 Z" style="fill:#666"/>
<ellipse class="w" cx="413.57" cy="155.4" rx="1.8" ry="2"/>
<path class="k" d="M416.13 156.87 L422.73 160.17"/>
<path class="d" d="M422.92 162 L409.17 167.5"/>
<path class="k" d="M365.17 116.53 L372.87 112.87"/>
<path class="k" d="M366.27 119.1 L373.97 115.43"/>
<path class="k" d="M372.87 112.87 L373.97 115.43"/>
<path class="w" d="M362.97 117.27 L364.8 116.17 L366.63 119.83 L364.8 120.93 Z"/>
<path class="w" d="M358.93 118.73 L361.13 116.53 L363.7 116.9 L365.17 119.83 L364.07 122.4 L361.13 123.13 L359.3 121.3 Z" style="fill:#777"/>
<path class="w" d="M405.13 90.5 L407.33 89.77 L408.43 93.07 L406.23 94.17 Z" style="fill:#666"/>
<ellipse class="k" cx="417.05" cy="97.83" rx="2.2" ry="2.5"/>
<path class="d" d="M414.3 98.57 L406.97 101.87"/>
<path d="M397.07 127.58 C396.99 124.28 396.91 123.5 396.83 117.67 C396.75 111.84 396.13 113.66 396.83 110.08 C397.53 106.5 397.3 107.82 398.93 106.93 C400.56 106.04 400.1 106.15 401.73 107.4 C403.36 108.65 403.01 106.47 403.83 110.67 C404.65 114.87 404.1 113.58 404.18 120 C404.26 126.42 404.11 126.61 404.07 129.92" fill="none" stroke="#222" stroke-width="4.85" stroke-linecap="butt" stroke-linejoin="round"/>
<path d="M397.07 127.58 C396.99 124.28 396.91 123.5 396.83 117.67 C396.75 111.84 396.13 113.66 396.83 110.08 C397.53 106.5 397.3 107.82 398.93 106.93 C400.56 106.04 400.1 106.15 401.73 107.4 C403.36 108.65 403.01 106.47 403.83 110.67 C404.65 114.87 404.1 113.58 404.18 120 C404.26 126.42 404.11 126.61 404.07 129.92" fill="none" stroke="#fff" stroke-width="2.55" stroke-linecap="butt" stroke-linejoin="round"/>
<path class="w" d="M395.2 126.53 L398 125.83 L407.57 128.4 L408.73 130.73 L408.5 139.83 L397.53 138.9 L395.43 136.33 Z"/>
<path class="t" d="M398 126.07 L398.47 138.67"/>
<path class="t" d="M407.1 131.2 L407.57 136.33"/>
<path class="w" d="M378.17 102.5 L381.67 101.92 L387.5 117.67 L398.58 139.83 L395.08 142.17 L384 118.25 Z"/>
<path class="w" d="M383.77 116.73 L387.03 115.8 L387.97 119.07 L384.93 120 Z"/>
<path class="t" d="M381.2 108.33 L384.23 107.63"/>
<path class="w" d="M377.58 100.17 L379.92 98.3 L387.5 97.83 L389.83 95.5 L392.87 95.97 L405 102.5 L407.57 104.37 L406.4 107.87 L403.83 108.57 L401.27 106 L397.07 103.67 L394.5 105.53 L390.53 104.37 L387.5 102.5 L384 104.37 L380.5 103.67 L378.17 102.03 Z"/>
<ellipse class="k" cx="389.6" cy="102.03" rx="2" ry="1.5" transform="rotate(-15 389.6 102.03)"/>
<ellipse class="k" cx="404.53" cy="105.07" rx="1.9" ry="2.3" transform="rotate(-20 404.53 105.07)"/>
<path class="t" d="M379.92 98.3 L381.67 102.03"/>
<path class="t" d="M387.5 97.83 L388.67 99.93"/>
<path class="d" d="M373.97 112.5 L385.7 107.73"/>
<path class="ld" d="M406.4 82.6 L406.4 90.2"/>
<path class="ld" d="M428 97.8 L420.8 97.8"/>
<circle cx="420.8" cy="97.8" r="1.1" fill="#111"/>
<path class="ld" d="M363.9 140 L363.9 122.8"/>
<circle cx="363.9" cy="122.8" r="1.1" fill="#111"/>
<path class="ld" d="M430.6 139.6 L408.4 139.6"/>
<circle cx="408.4" cy="139.6" r="1.1" fill="#111"/>
<path class="ld" d="M430.6 153.2 L418.4 153.2"/>
<circle cx="418.4" cy="153.2" r="1.1" fill="#111"/>
<path class="ld" d="M365.2 169.4 L365.2 180.2"/>
<path class="ld" d="M365.7 228.4 L365.7 203.6"/>
<circle cx="365.7" cy="203.6" r="1.1" fill="#111"/>
<path class="t" d="M392.43 480.63 C392.06 483.2 390.47 481.48 391.33 488.33 C392.19 495.18 392.8 495.91 395 501.17 C397.2 506.43 395.18 502.88 397.93 504.1 C400.68 505.32 401.48 504.59 403.25 504.83"/>
<path class="t" d="M400.5 480.63 C400.01 483.2 398.42 482.71 399.03 488.33 C399.64 493.95 400.74 493.22 402.33 497.5 C403.92 501.78 403.31 499.95 403.8 501.17"/>
<path class="t" d="M403.25 503 L405.27 505.2"/>
<path d="M395 480.45 C392.19 480.76 390.91 479.6 386.57 481.37 C382.23 483.14 383.51 481.74 381.98 485.77 C380.45 489.8 380.39 486.87 381.98 493.47 C383.57 500.07 385.28 498.73 386.75 505.57 C388.22 512.41 387.72 508.62 386.38 514 C385.04 519.38 383.94 519.13 382.72 521.7" fill="none" stroke="#222" stroke-width="8.35" stroke-linecap="butt" stroke-linejoin="round"/>
<path d="M395 480.45 C392.19 480.76 390.91 479.6 386.57 481.37 C382.23 483.14 383.51 481.74 381.98 485.77 C380.45 489.8 380.39 486.87 381.98 493.47 C383.57 500.07 385.28 498.73 386.75 505.57 C388.22 512.41 387.72 508.62 386.38 514 C385.04 519.38 383.94 519.13 382.72 521.7" fill="none" stroke="#fff" stroke-width="6.05" stroke-linecap="butt" stroke-linejoin="round"/>
<path d="M392.07 474.03 C387.97 474.34 385.95 473.24 379.78 474.95 C373.61 476.66 376.18 474.83 373.55 479.17 C370.92 483.51 370.8 480.27 371.9 487.97 C373 495.67 375.57 496.04 376.85 502.27 C378.13 508.5 377.03 504.29 375.75 506.67 C374.47 509.05 373.92 508.5 373 509.42" fill="none" stroke="#222" stroke-width="7.55" stroke-linecap="butt" stroke-linejoin="round"/>
<path d="M392.07 474.03 C387.97 474.34 385.95 473.24 379.78 474.95 C373.61 476.66 376.18 474.83 373.55 479.17 C370.92 483.51 370.8 480.27 371.9 487.97 C373 495.67 375.57 496.04 376.85 502.27 C378.13 508.5 377.03 504.29 375.75 506.67 C374.47 509.05 373.92 508.5 373 509.42" fill="none" stroke="#fff" stroke-width="5.25" stroke-linecap="butt" stroke-linejoin="round"/>
<path class="t" d="M382.53 488.33 L388.03 487.97"/>
<path class="w" d="M391.7 471.1 L395 470 L402.33 470.73 L403.8 473.67 L403.43 478.8 L400.5 480.63 L394.27 480.27 L391.7 477.33 Z"/>
<path class="k" d="M395 470.37 C395.61 471.59 396.46 470.73 396.83 474.03 C397.2 477.33 396.34 478.19 396.1 480.27"/>
<path class="k" d="M397.93 470.37 C398.54 471.71 399.4 470.98 399.77 474.4 C400.14 477.82 399.28 478.55 399.03 480.63"/>
<path class="t" d="M393.17 470.73 C393.66 472.08 394.39 471.71 394.63 474.77 C394.87 477.83 394.14 478.19 393.9 479.9"/>
<path class="w" d="M364.93 508.13 C365.44 505.95 365.4 506.25 367.5 505.57 C369.6 504.89 371.44 504.69 373.92 505.2 C376.4 505.71 376.98 505.72 378.13 507.77 C379.28 509.82 379.38 511.86 378.87 514 C378.36 516.14 378.16 516.07 375.93 516.93 C373.7 517.79 371.81 518.14 369.33 517.67 C366.85 517.2 366.33 517.15 365.3 514.92 C364.27 512.69 364.42 510.31 364.93 508.13 Z"/>
<path class="w" d="M364.2 521.33 C364.71 519.02 364.65 518.88 367.13 518.03 C369.61 517.18 371.92 517.16 374.83 517.67 C377.74 518.18 378.32 518.09 379.6 520.23 C380.88 522.37 381.01 524.43 380.33 526.83 C379.65 529.23 379.24 529.47 376.67 530.5 C374.1 531.53 372.07 531.83 369.33 531.23 C366.59 530.63 366.13 530.24 364.93 527.93 C363.73 525.62 363.69 523.64 364.2 521.33 Z"/>
<ellipse class="k" cx="368.97" cy="511.62" rx="2.2" ry="3.2" transform="rotate(-15 368.97 511.62)"/>
<ellipse class="k" cx="369.33" cy="524.63" rx="2.6" ry="3.8" transform="rotate(-15 369.33 524.63)"/>
<path class="t" d="M371.17 506.67 C371.78 508.26 372.88 508.01 373 511.43 C373.12 514.85 372.02 515.1 371.53 516.93"/>
<path class="t" d="M372.27 518.77 C373 520.72 374.35 520.72 374.47 524.63 C374.59 528.54 373.24 528.54 372.63 530.5"/>
<path class="w" d="M372.27 512.17 L375.93 511.07 L377.4 515.47 L373.73 516.93 Z"/>
<path class="w" d="M372.63 523.17 L376.67 521.7 L378.5 526.1 L374.47 527.93 Z"/>
<ellipse class="k" cx="359.98" cy="514" rx="2" ry="3.3" transform="rotate(-15 359.98 514)"/>
<ellipse class="t" cx="359.98" cy="514" rx="1" ry="2.2" transform="rotate(-15 359.98 514)"/>
<ellipse class="k" cx="360.26" cy="528.85" rx="3.6" ry="4.4" transform="rotate(-25 360.26 528.85)"/>
<ellipse class="t" cx="360.26" cy="528.85" rx="2.5" ry="3.3" transform="rotate(-25 360.26 528.85)"/>
<path class="w" d="M405.27 484.3 L407.1 482.1 L410.77 482.1 L412.6 484.3 L411.87 487.6 L408.93 488.7 L406 487.6 Z" style="fill:#666"/>
<ellipse class="w" cx="408.57" cy="485.4" rx="1.8" ry="2"/>
<path class="k" d="M411.13 486.87 L417.73 490.17"/>
<path class="d" d="M417.92 492 L404.17 497.5"/>
<path class="k" d="M360.17 449.1 L367.87 445.43"/>
<path class="k" d="M361.27 451.67 L368.97 448"/>
<path class="k" d="M367.87 445.43 L368.97 448"/>
<path class="w" d="M357.97 449.83 L359.8 448.73 L361.63 452.4 L359.8 453.5 Z"/>
<path class="w" d="M353.93 451.3 L356.13 449.1 L358.7 449.47 L360.17 452.4 L359.07 454.97 L356.13 455.7 L354.3 453.87 Z" style="fill:#777"/>
<path class="w" d="M400.13 420.5 L402.33 419.77 L403.43 423.07 L401.23 424.17 Z" style="fill:#666"/>
<ellipse class="k" cx="412.05" cy="427.83" rx="2.2" ry="2.5"/>
<path class="d" d="M409.3 428.57 L401.97 431.87"/>
<path d="M399.07 437.5 C398.21 438.86 398.76 438.78 396.5 441.58 C394.24 444.38 394.17 442.9 392.3 445.9 C390.43 448.9 390.28 446.37 390.9 450.57 C391.52 454.77 391.91 453.13 394.17 458.5 C396.43 463.87 395.49 462.08 397.67 466.67 C399.85 471.26 399.3 468.69 400.7 472.27 C402.1 475.85 401.48 475.69 401.87 477.4" fill="none" stroke="#222" stroke-width="6.35" stroke-linecap="butt" stroke-linejoin="round"/>
<path d="M399.07 437.5 C398.21 438.86 398.76 438.78 396.5 441.58 C394.24 444.38 394.17 442.9 392.3 445.9 C390.43 448.9 390.28 446.37 390.9 450.57 C391.52 454.77 391.91 453.13 394.17 458.5 C396.43 463.87 395.49 462.08 397.67 466.67 C399.85 471.26 399.3 468.69 400.7 472.27 C402.1 475.85 401.48 475.69 401.87 477.4" fill="none" stroke="#fff" stroke-width="4.05" stroke-linecap="butt" stroke-linejoin="round"/>
<path class="w" d="M374.33 432.83 L377.83 432.25 L384.25 449.17 L394.4 470.4 L390.43 471.57 L380.17 449.4 Z"/>
<path class="w" d="M379.93 448.47 L383.43 447.53 L384.37 450.8 L381.1 451.73 Z"/>
<path class="t" d="M377.13 439.83 L380.4 439.13"/>
<path class="w" d="M373.75 431.67 L376.08 429.92 L383.67 429.1 L386 426.77 L389.03 427.23 L400 432.83 L403.03 434.7 L403.03 437.73 L401.17 440.53 L398.37 441.7 L395.8 439.83 L392.53 437.5 L389.03 436.33 L386 437.5 L382.5 436.33 L379.47 438.2 L376.08 437.5 L374.1 434.7 Z"/>
<ellipse class="w" cx="399.42" cy="437.15" rx="3.4" ry="3.9" transform="rotate(-25 399.42 437.15)"/>
<ellipse class="k" cx="399.07" cy="437.38" rx="2" ry="2.5" transform="rotate(-25 399.07 437.38)"/>
<ellipse class="k" cx="385.07" cy="432.6" rx="2" ry="1.4" transform="rotate(-15 385.07 432.6)"/>
<path class="t" d="M376.08 429.92 L377.83 433.53"/>
<path class="t" d="M383.67 429.1 L384.83 431.2"/>
<path class="d" d="M368.97 445.07 L380.7 439.27"/>
<path class="ld" d="M403.4 414 L403.4 420.4"/>
<path class="ld" d="M425.6 429.2 L417.4 429.2"/>
<circle cx="417.4" cy="429.2" r="1.1" fill="#111"/>
<path class="ld" d="M358.4 470.4 L358.4 456"/>
<circle cx="358.4" cy="456" r="1.1" fill="#111"/>
<path class="ld" d="M423 464 L402.4 464"/>
<circle cx="402.4" cy="464" r="1.1" fill="#111"/>
<path class="ld" d="M427 484.4 L414.6 484.4"/>
<circle cx="414.6" cy="484.4" r="1.1" fill="#111"/>
<path class="ld" d="M360 502 L360 510.4"/>
<path class="ld" d="M360.6 553.6 L360.6 533.6"/>
<circle cx="360.6" cy="533.6" r="1.1" fill="#111"/>
<text class="l" x="175.75" y="87" textLength="37.25" lengthAdjust="spacingAndGlyphs">19D702A</text>
<text class="l" x="202" y="113" textLength="31.75" lengthAdjust="spacingAndGlyphs">19D594</text>
<text class="l" x="129.5" y="122.6" textLength="30.5" lengthAdjust="spacingAndGlyphs">19812B</text>
<text class="l" x="182" y="151.2" textLength="31.75" lengthAdjust="spacingAndGlyphs">19835D</text>
<text class="l" x="143" y="171.3" textLength="15" lengthAdjust="spacingAndGlyphs">HS1</text>
<text class="l" x="110" y="181.3" textLength="34.5" lengthAdjust="spacingAndGlyphs">19E889B</text>
<text class="l" x="206.25" y="208" textLength="35.75" lengthAdjust="spacingAndGlyphs">19E889A</text>
<text class="l" x="259.25" y="81.3" textLength="15.75" lengthAdjust="spacingAndGlyphs">HN1</text>
<text class="l" x="288.75" y="81.3" textLength="15.75" lengthAdjust="spacingAndGlyphs">HR5</text>
<text class="l" x="262" y="146.3" textLength="15" lengthAdjust="spacingAndGlyphs">HS1</text>
<text class="l" x="292.7" y="186.2" textLength="16" lengthAdjust="spacingAndGlyphs">HR1</text>
<text class="l" x="391.25" y="81.3" textLength="35" lengthAdjust="spacingAndGlyphs">19E889B</text>
<text class="l" x="428.75" y="101.7" textLength="35" lengthAdjust="spacingAndGlyphs">19E889C</text>
<text class="l" x="356.25" y="148.8" textLength="14.5" lengthAdjust="spacingAndGlyphs">HS1</text>
<text class="l" x="431.25" y="143.8" textLength="31.25" lengthAdjust="spacingAndGlyphs">19835B</text>
<text class="l" x="432" y="158" textLength="16" lengthAdjust="spacingAndGlyphs">HN2</text>
<text class="l" x="357" y="168" textLength="16" lengthAdjust="spacingAndGlyphs">HR4</text>
<text class="l" x="330" y="235.6" textLength="16.25" lengthAdjust="spacingAndGlyphs">HN1</text>
<text class="l" x="358" y="235.6" textLength="16.5" lengthAdjust="spacingAndGlyphs">HR2</text>
<text class="l" x="338.75" y="254.5" textLength="15" lengthAdjust="spacingAndGlyphs">HS3</text>
<text class="l" x="340.75" y="278" textLength="31.25" lengthAdjust="spacingAndGlyphs">19812A</text>
<text class="l" x="232.7" y="285" textLength="16.3" lengthAdjust="spacingAndGlyphs">HR2</text>
<text class="l" x="369.5" y="250.8" textLength="14.5" lengthAdjust="spacingAndGlyphs">HS2</text>
<text class="l" x="218" y="229.5" textLength="17" lengthAdjust="spacingAndGlyphs">HR6</text>
<text class="l" x="412.5" y="244.5" textLength="16.25" lengthAdjust="spacingAndGlyphs">HN1</text>
<text class="l" x="438.75" y="283" textLength="16.25" lengthAdjust="spacingAndGlyphs">HR3</text>
<text class="l" x="420" y="324.4" textLength="37.3" lengthAdjust="spacingAndGlyphs">19D702B</text>
<text class="l" x="400.75" y="361.7" textLength="31" lengthAdjust="spacingAndGlyphs">19B632</text>
<text class="l" x="398.75" y="383.3" textLength="16.25" lengthAdjust="spacingAndGlyphs">HN1</text>
<text class="l" x="388" y="412.8" textLength="35" lengthAdjust="spacingAndGlyphs">19E889B</text>
<text class="l" x="426.25" y="433.1" textLength="35" lengthAdjust="spacingAndGlyphs">19E889C</text>
<text class="l" x="257" y="349.2" textLength="31" lengthAdjust="spacingAndGlyphs">19835A</text>
<text class="l" x="313.75" y="349.2" textLength="15" lengthAdjust="spacingAndGlyphs">HB1</text>
<text class="l" x="326.25" y="403.8" textLength="15.75" lengthAdjust="spacingAndGlyphs">HR3</text>
<text class="l" x="423.75" y="468" textLength="31.25" lengthAdjust="spacingAndGlyphs">19835C</text>
<text class="l" x="350.5" y="479.2" textLength="14.5" lengthAdjust="spacingAndGlyphs">HS1</text>
<text class="l" x="428" y="488.8" textLength="16.5" lengthAdjust="spacingAndGlyphs">HN2</text>
<text class="l" x="352" y="500.5" textLength="16" lengthAdjust="spacingAndGlyphs">HR4</text>
<text class="l" x="351.5" y="561.5" textLength="17" lengthAdjust="spacingAndGlyphs">HR2</text>
<text class="f" x="426.3" y="531.8" textLength="29.5" lengthAdjust="spacingAndGlyphs">4120222</text>
<text class="f" x="427" y="541.8" textLength="28.8" lengthAdjust="spacingAndGlyphs">24-2013</text>
<text class="f" x="435" y="551.8" textLength="7" lengthAdjust="spacingAndGlyphs">LS</text>
<text class="f" x="419.2" y="561.8" textLength="45.5" lengthAdjust="spacingAndGlyphs">P0216381-07</text>
<rect x="253" y="322" width="41.6" height="13.5" fill="#de1a1c"/>
<text x="254.6" y="333.1" textLength="39.3" lengthAdjust="spacingAndGlyphs" style="font-family:'Liberation Sans',sans-serif;font-size:11.8px;fill:#fff;stroke:#fff;stroke-width:.3">18B402</text>
</g>
<rect x="480.5" y="0" width="119.5" height="34.2" fill="#000"/>
<g fill="#fff"><path d="M512 13 L518.5 15.6 L515.3 22 Z"/><path d="M518.8 13.7 L524.9 16 L522 22 Z"/><path d="M525.4 14.9 L532.2 16 L529 21.5 Z"/></g>
<text x="537" y="21.2" textLength="9.6" lengthAdjust="spacingAndGlyphs" style="font-family:'Liberation Sans',sans-serif;font-weight:bold;font-size:10.1px;fill:#fff">W</text>
<text x="548.4" y="21.2" textLength="6.9" lengthAdjust="spacingAndGlyphs" style="font-family:'Liberation Sans',sans-serif;font-weight:bold;font-size:10.1px;fill:#fff">&amp;</text>
<text x="557.0" y="21.2" textLength="10.2" lengthAdjust="spacingAndGlyphs" style="font-family:'Liberation Sans',sans-serif;font-weight:bold;font-size:10.1px;fill:#fff">G</text>
</svg>
</body></html>
